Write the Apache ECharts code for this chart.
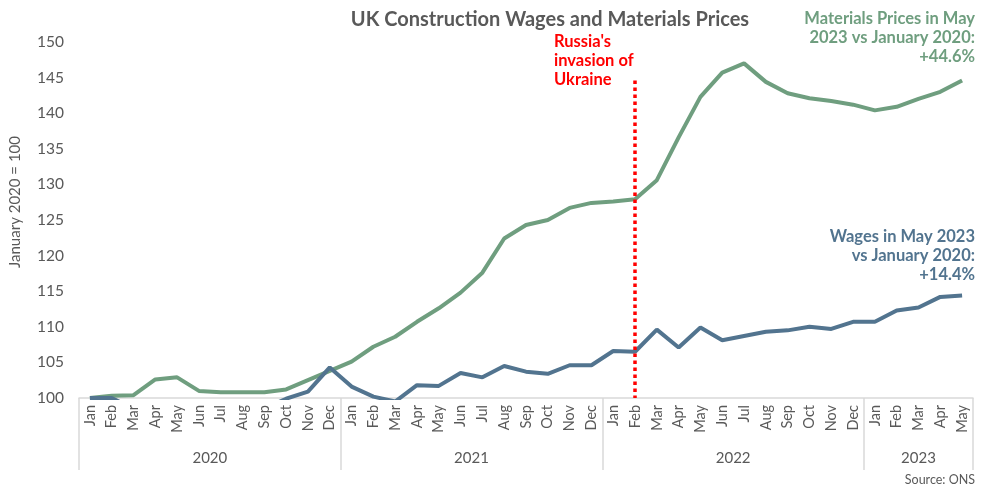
<!DOCTYPE html>
<html><head><meta charset="utf-8">
<script src="https://cdn.jsdelivr.net/npm/echarts@6/dist/echarts.min.js"></script>
<style>html,body{margin:0;padding:0;background:#fff}#c{width:982px;height:489px}</style>
</head><body><div id="c"></div>
<script>
const months = ['Jan','Feb','Mar','Apr','May','Jun','Jul','Aug','Sep','Oct','Nov','Dec',
  'Jan','Feb','Mar','Apr','May','Jun','Jul','Aug','Sep','Oct','Nov','Dec',
  'Jan','Feb','Mar','Apr','May','Jun','Jul','Aug','Sep','Oct','Nov','Dec',
  'Jan','Feb','Mar','Apr','May'];
const years = ['2020','2021','2022','2023'];
const yearStarts = [0, 12, 24, 36, 41];
const yearLabelPos = [6, 18, 30, 38.5];
const materials = [100.0,100.3,100.4,102.6,102.9,101.0,100.8,100.8,100.8,101.2,102.5,103.8,
  105.1,107.2,108.6,110.7,112.6,114.8,117.6,122.4,124.3,125.0,126.7,127.4,
  127.6,127.9,130.6,136.6,142.3,145.7,147.0,144.4,142.8,142.1,141.7,141.2,
  140.4,140.9,142.0,143.0,144.6];
const wages = [100.0,100.0,98.5,97.0,96.5,97.0,97.5,98.0,98.5,99.9,100.9,104.3,
  101.6,100.2,99.5,101.8,101.7,103.5,102.9,104.5,103.7,103.4,104.6,104.6,
  106.6,106.5,109.6,107.1,109.9,108.1,108.7,109.3,109.5,110.0,109.7,110.7,
  110.7,112.3,112.7,114.2,114.4];
const invasionIndex = 25;
const invasionTop = 144.6;
const yMin = 100, yMax = 150, yStep = 5;
const materialsNote = ['Materials Prices in May', '2023 vs January 2020:', '+44.6%'];
const wagesNote = ['Wages in May 2023', 'vs January 2020:', '+14.4%'];
const invasionNote = ["Russia's", 'invasion of', 'Ukraine'];

const FONT = 'Lato, "Open Sans", sans-serif';
const GREEN = '#6f9e7f', BLUE = '#52748f', GREY = '#595959';

function noteLines(lines, color, top, opts) {
  return lines.map(function (t, i) {
    const el = {type: 'text', top: top + i * 19,
      style: {text: t, fill: color, font: 'bold 16.5px ' + FONT}};
    if (opts.right != null) el.right = opts.right; else el.left = opts.left;
    return el;
  });
}

const chart = echarts.init(document.getElementById('c'), null, {renderer:'canvas'});
chart.setOption({
  animation: false,
  textStyle: {fontFamily: FONT},
  title: {
    text: 'UK Construction Wages and Materials Prices',
    left: 545, top: 5, textAlign: 'center',
    textStyle: {fontFamily: FONT, fontSize: 20, fontWeight: 'bold', color: GREY}
  },
  grid: {left: 77, right: 9, top: 42, bottom: 91, containLabel: false},
  xAxis: [{
    type: 'category', data: months, boundaryGap: true,
    axisLine: {show: true, lineStyle: {color: '#d9d9d9', width: 1.5}},
    axisTick: {show: false},
    axisLabel: {interval: 0, rotate: 90, margin: 7, fontSize: 14.5, color: GREY, fontFamily: FONT}
  }, {
    type: 'value', min: 0, max: months.length, position: 'bottom',
    axisLine: {show: false},
    splitLine: {show: false},
    axisTick: {show: true, customValues: yearStarts, length: 72, lineStyle: {color: '#d9d9d9', width: 1.5}},
    axisLabel: {
      customValues: yearLabelPos, margin: 53, fontSize: 15, color: GREY, fontFamily: FONT,
      formatter: function (v) { return years[yearLabelPos.indexOf(v)]; }
    }
  }],
  yAxis: {
    type: 'value', min: yMin, max: yMax, interval: yStep,
    name: 'January 2020 = 100', nameLocation: 'middle', nameGap: 56, nameRotate: 90,
    nameTextStyle: {fontSize: 15, color: GREY, fontFamily: FONT, padding: [0, 0, 0, 36]},
    axisLine: {show: false}, axisTick: {show: false}, splitLine: {show: false},
    axisLabel: {margin: 15, fontSize: 15.5, color: GREY, fontFamily: FONT}
  },
  series: [{
    name: 'Materials', type: 'line', data: materials, xAxisIndex: 0,
    symbol: 'none', clip: true,
    lineStyle: {color: GREEN, width: 4}, z: 2
  }, {
    name: 'Wages', type: 'line', data: wages, xAxisIndex: 0,
    symbol: 'none', clip: true,
    lineStyle: {color: BLUE, width: 4}, z: 3,
    markLine: {
      silent: true, symbol: ['none','none'], label: {show: false},
      lineStyle: {color: '#ff0000', width: 3.5, type: [3.5, 3.5]},
      data: [[{coord: [invasionIndex, invasionTop]}, {coord: [invasionIndex, yMin]}]]
    }
  }],
  graphic: [].concat(
    noteLines(invasionNote, '#ff0000', 33, {left: 554}),
    noteLines(materialsNote, GREEN, 10, {right: 7}),
    noteLines(wagesNote, BLUE, 228, {right: 7}),
    [{type: 'text', right: 7, top: 473,
      style: {text: 'Source: ONS', fill: GREY, font: '12.5px ' + FONT}}]
  )
});
</script></body></html>
